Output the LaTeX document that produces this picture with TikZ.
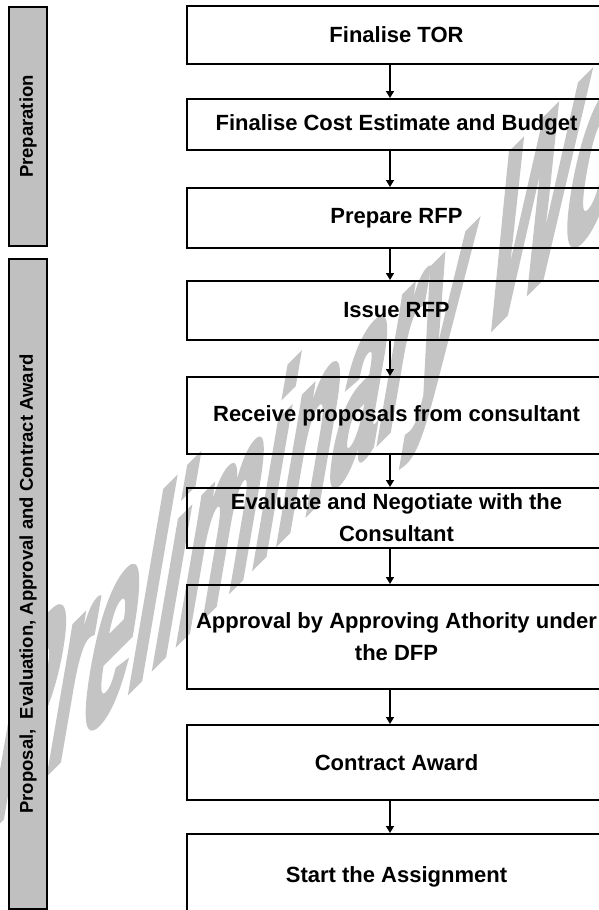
\documentclass[tikz,border=0pt]{standalone}
\usepackage{fontspec}
\setmainfont{Liberation Sans}
\newfontfamily\wmfont[FakeBold=3]{Liberation Sans Bold}
\usetikzlibrary{arrows.meta}
\definecolor{barfill}{RGB}{192,192,192}
\definecolor{wmark}{RGB}{196,196,196}
\tikzset{
  stepbox/.style={draw=black, line width=2pt, minimum width=419pt, inner sep=0pt,
    align=center, font=\fontsize{22}{32}\selectfont\bfseries},
  phasebar/.style={draw=black, line width=2pt, fill=barfill},
  phaselabel/.style={rotate=90, font=\fontsize{18.5}{22}\selectfont\bfseries, inner sep=0pt},
  flow/.style={line width=1.5pt, -{Triangle[length=7pt,width=8pt]}},
  wmtext/.style={transform shape, anchor=base west, inner sep=0pt, text=wmark,
    font=\fontsize{100}{100}\selectfont\wmfont},
}
\begin{document}
\begin{tikzpicture}[x=1pt,y=-1pt]
\useasboundingbox (0,0) rectangle (599,910);
\clip (0,0) rectangle (599,910);
\fill[white] (0,0) rectangle (599,910);
% watermark
\begin{scope}[shift={(-15,835)}, cm={0.86,0.86,0.47,2.74,(0,0)}]
\node[wmtext] (wm) at (0,0) {Preliminary Working};
\end{scope}
% phase bars
\draw[phasebar] (9,7) rectangle (47,246);
\draw[phasebar] (9,259) rectangle (47,909);
\node[phaselabel] (p1) at (28,126.5) {Preparation};
\node[phaselabel] (p2) at (28,584) {Proposal,\ \ Evaluation, Approval and Contract Award};
% boxes
\node[stepbox, minimum height=58pt] (b1) at (396.5,35) {Finalise TOR};
\node[stepbox, minimum height=51pt] (b2) at (396.5,124.5) {Finalise Cost Estimate and Budget};
\node[stepbox, minimum height=60pt] (b3) at (396.5,218) {Prepare RFP};
\node[stepbox, minimum height=59pt] (b4) at (396.5,310.5) {Issue RFP};
\node[stepbox, minimum height=77pt] (b5) at (396.5,415.5) {Receive proposals from consultant};
\node[stepbox, minimum height=60pt] (b6) at (396.5,518) {Evaluate and Negotiate with the\\Consultant};
\node[stepbox, minimum height=104pt] (b7) at (396.5,637) {Approval by Approving Athority under\\the DFP};
\node[stepbox, minimum height=75pt] (b8) at (396.5,762.5) {Contract Award};
\node[stepbox, minimum height=86pt] (b9) at (396.5,877) {Start the Assignment};
% arrows
\coordinate (ax) at (390,0);
\foreach \a/\b in {b1/b2,b2/b3,b3/b4,b4/b5,b5/b6,b6/b7,b7/b8,b8/b9}
  \draw[flow] (\a.south -| ax) -- (\b.north -| ax);
\end{tikzpicture}
\end{document}
